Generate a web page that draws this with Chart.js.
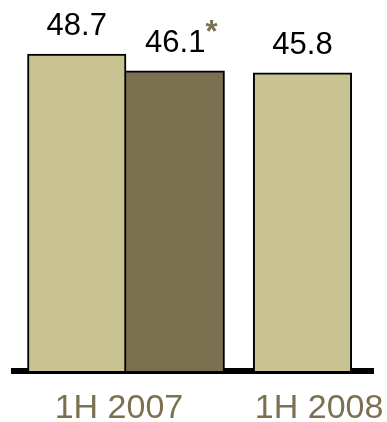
<!DOCTYPE html>
<html><head><meta charset="utf-8">
<script src="https://cdn.jsdelivr.net/npm/chart.js@4/dist/chart.umd.min.js"></script>
<style>html,body{margin:0;padding:0;background:#fff;overflow:hidden}canvas{display:block}</style>
</head><body>
<canvas id="c" width="387" height="422"></canvas>
<script>
const categories = ['1H 2007', '1H 2008'];
const seriesA = [48.7, 45.8];      // light bars
const seriesB = [46.1, null];      // dark bar, 1H 2007 only
const seriesBNotes = ['*', null];
const tickPositions = [-0.04, 1.094];   // where the category labels sit on the x axis

const LIGHT = '#c8c391', DARK = '#7b7150', OLIVE = '#7b7150';
const FAMILY = '"Liberation Sans", Arial, sans-serif';

const toPoints = arr => arr.map((v, i) => ({x: i, y: v}));

const valueLabels = {
  id: 'valueLabels',
  afterDatasetsDraw(chart) {
    const ctx = chart.ctx;
    ctx.save();
    chart.data.datasets.forEach((ds, di) => {
      const meta = chart.getDatasetMeta(di);
      meta.data.forEach((el, i) => {
        const v = ds.data[i].y;
        if (v == null) return;
        const txt = v.toFixed(1);
        ctx.font = '31px ' + FAMILY;
        ctx.fillStyle = '#000';
        ctx.textAlign = 'center';
        ctx.textBaseline = 'alphabetic';
        const y = el.y - 19;
        ctx.fillText(txt, el.x, y);
        const note = ds.notes && ds.notes[i];
        if (note) {
          const w = ctx.measureText(txt).width;
          ctx.font = 'bold 31px ' + FAMILY;
          ctx.fillStyle = OLIVE;
          ctx.textAlign = 'left';
          ctx.fillText(note, el.x + w / 2, y - 10);
        }
      });
    });
    ctx.restore();
  }
};

new Chart(document.getElementById('c'), {
  type: 'bar',
  data: {
    datasets: [
      {data: toPoints(seriesA), backgroundColor: LIGHT, borderColor: '#000', borderWidth: 2,
       barThickness: 98.5, skipNull: true},
      {data: toPoints(seriesB), notes: seriesBNotes, backgroundColor: DARK, borderColor: '#000',
       borderWidth: {top: 2, right: 2, left: 0, bottom: 0}, barThickness: 98.5, skipNull: true}
    ]
  },
  options: {
    responsive: false, animation: false, devicePixelRatio: 1,
    layout: {padding: {left: 14, right: 13.5, top: 0, bottom: 0}},
    plugins: {legend: {display: false}, tooltip: {enabled: false}},
    scales: {
      x: {
        type: 'linear', min: -0.6346, max: 1.4023, offset: false, z: 1,
        grid: {display: false, drawTicks: false},
        border: {display: true, color: '#000', width: 6},
        afterBuildTicks: s => { s.ticks = tickPositions.map(v => ({value: v})); },
        afterFit: s => { s.height = 51; s.paddingLeft = 0; s.paddingRight = 0; },
        ticks: {
          callback: (v, i) => categories[i], color: OLIVE,
          font: {family: FAMILY, size: 34, lineHeight: 0.9},
          padding: 22.7, maxRotation: 0, autoSkip: false
        }
      },
      y: {display: false, min: 0, max: 57}
    }
  },
  plugins: [valueLabels]
});
</script>
</body></html>
